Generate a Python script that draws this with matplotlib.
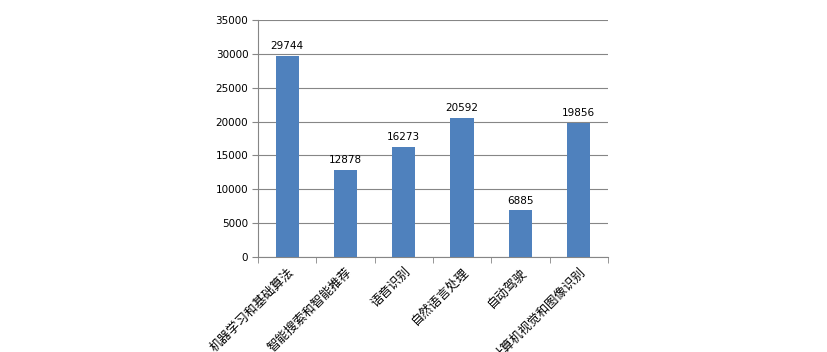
import numpy as np
import matplotlib
matplotlib.use('Agg')
import matplotlib.pyplot as plt

plt.rcParams['font.family'] = ['Noto Sans CJK SC', 'DejaVu Sans']

categories = ['机器学习和基础算法', '智能搜索和智能推荐', '语音识别', '自然语言处理', '自动驾驶', '计算机视觉和图像识别']
values = [29744, 12878, 16273, 20592, 6885, 19856]
y_ticks = [0, 5000, 10000, 15000, 20000, 25000, 30000, 35000]

bar_color = '#4F81BD'
axis_color = '#868686'

fig = plt.figure(figsize=(8.27, 3.52), dpi=100)
ax = fig.add_axes([0.312, 0.270, 0.423, 0.673])

x = np.arange(len(categories))
bars = ax.bar(x, values, width=0.4, color=bar_color, zorder=3)

for xi, v in zip(x, values):
    ax.text(xi, v + 700, str(v), ha='center', va='bottom', fontsize=7.5,
            family='DejaVu Sans', color='black')

ax.set_xlim(-0.5, len(categories) - 0.5)
ax.set_ylim(0, 35000)
ax.set_yticks(y_ticks)
ax.set_yticklabels([str(t) for t in y_ticks], fontsize=7.5, family='DejaVu Sans')
ax.yaxis.grid(True, color=axis_color, linewidth=0.8, zorder=0)

ax.set_xticks(x)
ax.set_xticklabels(categories, rotation=45, ha='right', rotation_mode='anchor',
                   fontsize=9)
ax.set_xticks(np.arange(len(categories) + 1) - 0.5, minor=True)
ax.tick_params(axis='x', which='major', length=0, pad=6)
ax.tick_params(axis='x', which='minor', length=4, color=axis_color)
ax.tick_params(axis='y', length=4, color=axis_color, pad=3)

for side in ['top', 'right']:
    ax.spines[side].set_visible(False)
for side in ['left', 'bottom']:
    ax.spines[side].set_color(axis_color)
    ax.spines[side].set_linewidth(0.8)

fig.savefig('out.png', dpi=100, facecolor='white')
